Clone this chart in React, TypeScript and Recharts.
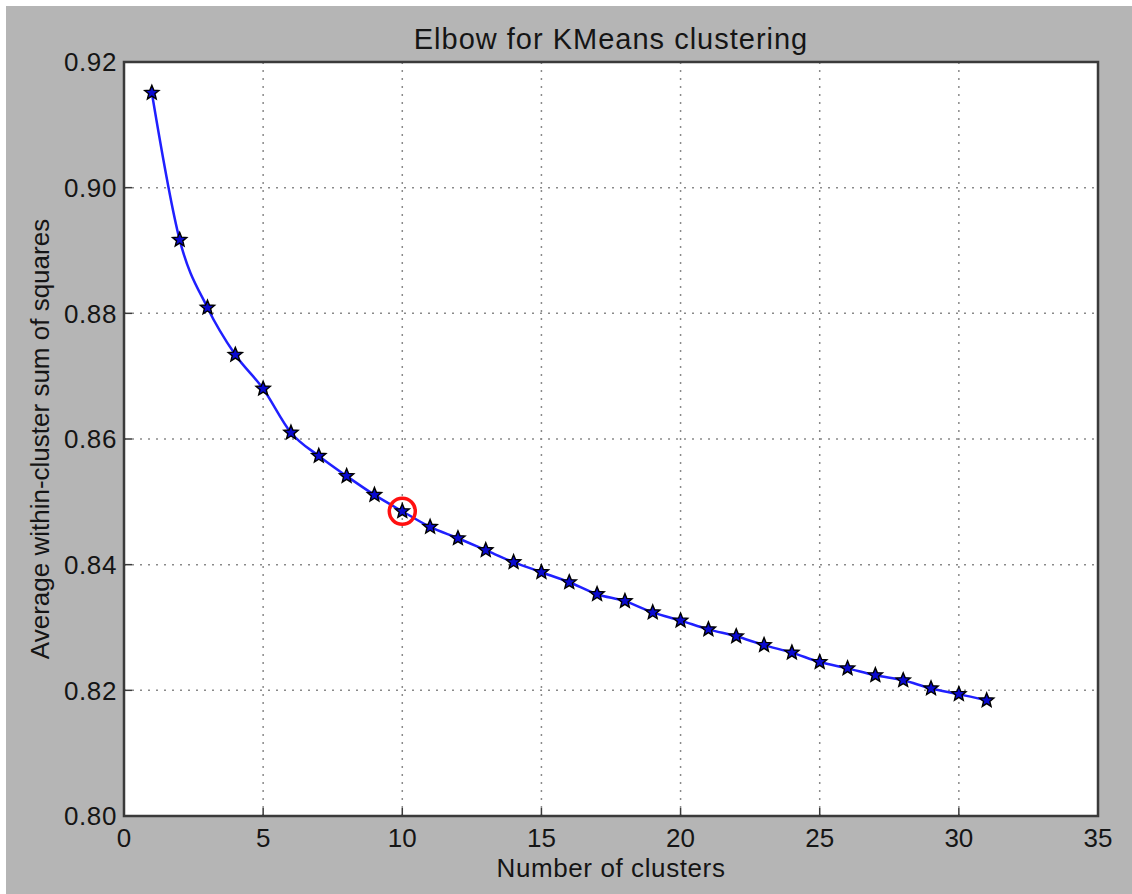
import { CartesianGrid, Line, LineChart, ReferenceArea, ReferenceDot, XAxis, YAxis } from "recharts";

const clusters = [1, 2, 3, 4, 5, 6, 7, 8, 9, 10, 11, 12, 13, 14, 15, 16, 17, 18, 19, 20, 21, 22, 23, 24, 25, 26, 27, 28, 29, 30, 31];
const avgWithinSS = [
  0.9151, 0.8917, 0.8809, 0.8734, 0.868, 0.861, 0.8573, 0.8541, 0.8511, 0.8485, 0.846, 0.8442, 0.8423, 0.8404, 0.8388,
  0.8372, 0.8353, 0.8342, 0.8324, 0.8311, 0.8297, 0.8286, 0.8272, 0.826, 0.8245, 0.8235, 0.8224, 0.8216, 0.8203, 0.8194,
  0.8184,
];
const xTicks = [0, 5, 10, 15, 20, 25, 30, 35];
const yTicks = [0.8, 0.82, 0.84, 0.86, 0.88, 0.9, 0.92];
const elbowK = 10;

const data = clusters.map((k, i) => ({ k, sse: avgWithinSS[i] }));

const FONT = '"Liberation Sans", Arial, Helvetica, sans-serif';
const TICK_LEN = 8;
const FRAME = "#3a3a3a";
const TXT = "#151515";

// star marker, like matplotlib's '*'
function Star(props: any) {
  const { cx, cy } = props;
  if (cx == null || cy == null) return null;
  const R = 7.5;
  const r = 3.3;
  const pts: string[] = [];
  for (let i = 0; i < 10; i++) {
    const a = -Math.PI / 2 + (i * Math.PI) / 5;
    const rad = i % 2 === 0 ? R : r;
    pts.push(`${cx + rad * Math.cos(a)},${cy + rad * Math.sin(a)}`);
  }
  return <polygon key={`s-${cx}`} points={pts.join(" ")} fill="#0a0ad0" stroke="#000" strokeWidth={1.4} />;
}

function BottomTick({ x, y, payload }: any) {
  return (
    <g>
      <line x1={x} y1={y - 7} x2={x} y2={y - 7 - TICK_LEN} stroke={FRAME} strokeWidth={1.5} />
      <text x={x} y={y} dy={24} textAnchor="middle" fontSize={26} fontFamily={FONT} fill={TXT}>
        {payload.value}
      </text>
    </g>
  );
}

function LeftTick({ x, y, payload }: any) {
  return (
    <g>
      <line x1={x + 7} y1={y} x2={x + 7 + TICK_LEN} y2={y} stroke={FRAME} strokeWidth={1.5} />
      <text x={x} y={y} dy="0.36em" textAnchor="end" fontSize={26} letterSpacing={0.6} fontFamily={FONT} fill={TXT}>
        {Number(payload.value).toFixed(2)}
      </text>
    </g>
  );
}

function TopTick({ x, y }: any) {
  return <line x1={x} y1={y} x2={x} y2={y + TICK_LEN} stroke={FRAME} strokeWidth={1.5} />;
}

function RightTick({ x, y }: any) {
  return <line x1={x} y1={y} x2={x - TICK_LEN} y2={y} stroke={FRAME} strokeWidth={1.5} />;
}

export default function App() {
  return (
    <div
      style={{
        position: "absolute",
        left: 6,
        top: 6,
        width: 1126,
        height: 888,
        background: "#b5b5b5",
        fontFamily: FONT,
      }}
    >
      <div
        style={{
          position: "absolute",
          top: 17,
          left: 118,
          width: 974,
          textAlign: "center",
          fontSize: 29,
          letterSpacing: 1,
          lineHeight: "33px",
          color: TXT,
        }}
      >
        Elbow for KMeans clustering
      </div>
      <LineChart width={1126} height={888} data={data} margin={{ top: 56, right: 0, bottom: 38, left: 0 }}>
        <CartesianGrid stroke="#8a8a8a" strokeWidth={1.5} strokeDasharray="2 6" fill="#ffffff" />
        <ReferenceArea x1={0} x2={35} y1={0.8} y2={0.92} fill="none" stroke={FRAME} strokeWidth={2.5} ifOverflow="visible" />
        <XAxis
          dataKey="k"
          type="number"
          domain={[0, 35]}
          ticks={xTicks}
          height={40}
          tickSize={0}
          tickMargin={7}
          axisLine={false}
          tickLine={false}
          tick={<BottomTick />}
          interval={0}
          label={{
            value: "Number of clusters",
            position: "bottom",
            offset: 3,
            fontSize: 26,
            fill: TXT,
            fontFamily: FONT,
            letterSpacing: 0.6,
          }}
        />
        <XAxis
          xAxisId="top"
          orientation="top"
          dataKey="k"
          type="number"
          domain={[0, 35]}
          ticks={xTicks}
          height={0}
          tickSize={0}
          tickMargin={0}
          axisLine={false}
          tickLine={false}
          tick={<TopTick />}
          interval={0}
        />
        <YAxis
          type="number"
          domain={[0.8, 0.92]}
          ticks={yTicks}
          width={118}
          tickSize={0}
          tickMargin={7}
          axisLine={false}
          tickLine={false}
          tick={<LeftTick />}
          interval={0}
          label={{
            value: "Average within-cluster sum of squares",
            angle: -90,
            position: "insideLeft",
            offset: 34,
            fontSize: 26,
            fill: TXT,
            fontFamily: FONT,
            style: { textAnchor: "middle" },
          }}
        />
        <YAxis
          yAxisId="right"
          orientation="right"
          type="number"
          domain={[0.8, 0.92]}
          ticks={yTicks}
          width={34}
          tickSize={0}
          tickMargin={0}
          axisLine={false}
          tickLine={false}
          tick={<RightTick />}
          interval={0}
        />
        <Line
          type="monotone"
          dataKey="sse"
          stroke="#2020ff"
          strokeWidth={2.5}
          dot={<Star />}
          activeDot={false}
          isAnimationActive={false}
        />
        <ReferenceDot
          x={elbowK}
          y={avgWithinSS[clusters.indexOf(elbowK)]}
          r={13}
          fill="none"
          stroke="#ff1010"
          strokeWidth={3.5}
        />
      </LineChart>
    </div>
  );
}
